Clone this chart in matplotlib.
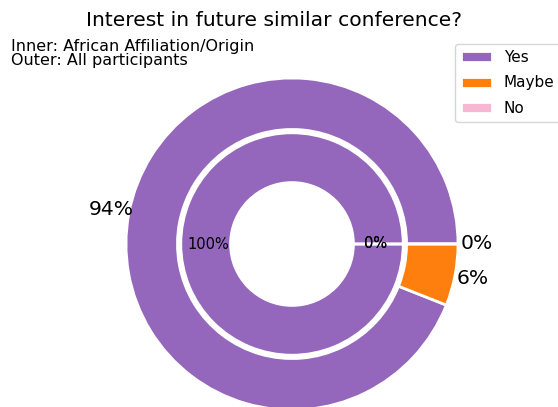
import numpy as np
import matplotlib
matplotlib.use("Agg")
import matplotlib.pyplot as plt

# answers and shares (percent)
labels = ['Yes', 'Maybe', 'No']
outer_vals = [94, 6, 0]     # all participants
inner_vals = [100, 0, 0]    # african affiliation/origin
colors = ['#9467bd', '#ff7f0e', '#f7b6d2']

fig = plt.figure(figsize=(5.58, 4.07), dpi=100)
ax = fig.add_axes([0, 0, 1, 1])

wedges, _, outer_txt = ax.pie(outer_vals, radius=1, colors=colors, startangle=0,
                              autopct='%.0f%%', pctdistance=1.11,
                              wedgeprops=dict(width=0.31, edgecolor='w', linewidth=2))
for t in outer_txt:
    t.set_fontsize(14.6)

_, _, inner_txt = ax.pie(inner_vals, radius=0.67, colors=colors, startangle=0,
                         autopct='%.0f%%', pctdistance=0.75,
                         wedgeprops=dict(width=0.3, edgecolor='w', linewidth=2))
for t in inner_txt:
    t.set_fontsize(10.5)

# pie centre at about (292, 244) px, radius 166 px
s = 166.0
cx, cy = 292.0, 244.0
ax.set_xlim(-cx / s, (558 - cx) / s)
ax.set_ylim(-(407 - cy) / s, cy / s)
ax.set_aspect('equal')
ax.axis('off')

fig.text(274.5 / 558, 1 - 20 / 407, 'Interest in future similar conference?',
         ha='center', va='center', fontsize=14.6)
fig.text(11 / 558, 1 - 39 / 407, 'Inner: African Affiliation/Origin\nOuter: All participants',
         ha='left', va='top', fontsize=11.5, linespacing=0.95)

fig.legend(wedges, labels, loc='upper left', bbox_to_anchor=(455 / 558, 1 - 44 / 407),
           fontsize=11, borderaxespad=0, labelspacing=0.68)

fig.savefig('out.png', dpi=100)
